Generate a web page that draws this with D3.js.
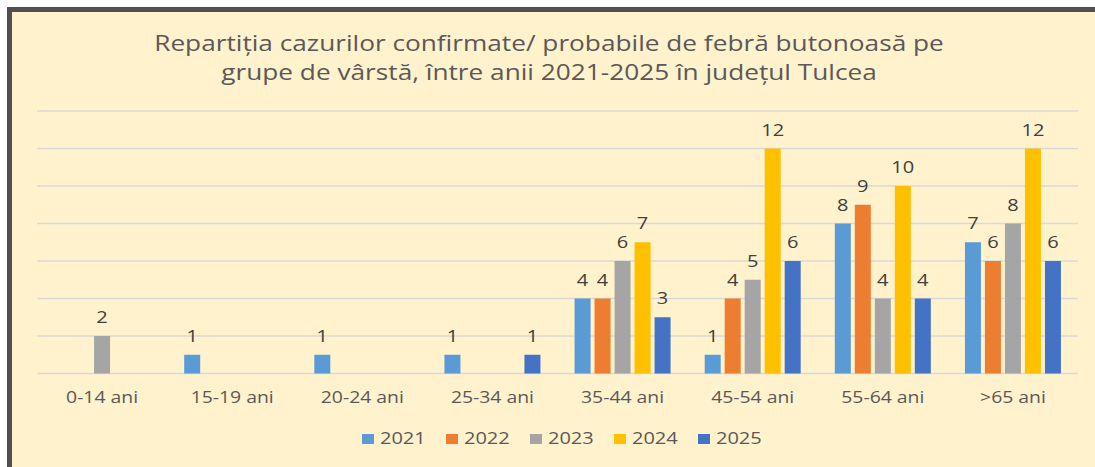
<!DOCTYPE html>
<html>
<head>
<meta charset="utf-8">
<script src="https://cdn.jsdelivr.net/npm/d3@7"></script>
<style>
  body { margin: 0; background: #fff; }
  svg { display: block; font-family: "Open Sans", sans-serif; }
</style>
</head>
<body>
<svg id="chart" width="1095" height="467"></svg>
<script>
// data
var categories = ["0-14 ani", "15-19 ani", "20-24 ani", "25-34 ani", "35-44 ani", "45-54 ani", "55-64 ani", ">65 ani"];
var years = ["2021", "2022", "2023", "2024", "2025"];
var colors = ["#5B9BD5", "#ED7D31", "#A5A5A5", "#FFC000", "#4472C4"];
var v2021 = [0, 1, 1, 1, 4, 1, 8, 7];
var v2022 = [0, 0, 0, 0, 4, 4, 9, 6];
var v2023 = [2, 0, 0, 0, 6, 5, 4, 8];
var v2024 = [0, 0, 0, 0, 7, 12, 10, 12];
var v2025 = [0, 0, 0, 1, 3, 6, 4, 6];
var seriesVals = [v2021, v2022, v2023, v2024, v2025];
var yTicks = [0, 2, 4, 6, 8, 10, 12, 14];
var titleLines = ["Repartiția cazurilor confirmate/ probabile de febră butonoasă pe",
                  "grupe de vârstă, între anii 2021-2025 în județul Tulcea"];

// the source screenshot is stretched sideways, so text gets widened a bit
var SX = 1.25;

var svg = d3.select("#chart");

// background + dark frame (cut off at right / bottom like the screenshot)
svg.append("rect")
  .attr("x", 9.5).attr("y", 9.5)
  .attr("width", 1200).attr("height", 600)
  .attr("fill", "#FFF2CC")
  .attr("stroke", "#505050")
  .attr("stroke-width", 5);

// title
svg.append("g").selectAll("text")
  .data(titleLines)
  .join("text")
  .attr("transform", function(d, i) { return "translate(549," + (51 + i * 28.5) + ") scale(1.22,1)"; })
  .attr("text-anchor", "middle")
  .attr("font-size", 21.5)
  .attr("fill", "#595959")
  .text(function(d) { return d; });

var x0 = d3.scaleBand().domain(categories).range([37, 1078]).padding(0);
var x1 = d3.scaleBand().domain(years).range([0, 96]).paddingInner(0.2);
var y = d3.scaleLinear().domain([0, 14]).range([373.5, 111]);

// grid lines
svg.append("g").selectAll("line")
  .data(yTicks)
  .join("line")
  .attr("x1", 37).attr("x2", 1078)
  .attr("y1", function(d) { return y(d); })
  .attr("y2", function(d) { return y(d); })
  .attr("stroke", "#D9D9D9")
  .attr("stroke-width", 1.5);

// bars
var rows = [];
categories.forEach(function(c, ci) {
  years.forEach(function(yr, si) {
    rows.push({cat: c, year: yr, si: si, value: seriesVals[si][ci]});
  });
});

var off = (x0.bandwidth() - 96) / 2;
var barX = function(d) { return x0(d.cat) + off + x1(d.year); };

svg.append("g").selectAll("rect")
  .data(rows.filter(function(d) { return d.value > 0; }))
  .join("rect")
  .attr("x", barX)
  .attr("y", function(d) { return y(d.value); })
  .attr("width", x1.bandwidth())
  .attr("height", function(d) { return y(0) - y(d.value); })
  .attr("fill", function(d) { return colors[d.si]; });

// value labels
svg.append("g").selectAll("text")
  .data(rows.filter(function(d) { return d.value > 0; }))
  .join("text")
  .attr("transform", function(d) {
    return "translate(" + (barX(d) + x1.bandwidth() / 2) + "," + (y(d.value) - 13) + ") scale(" + SX + ",1)";
  })
  .attr("text-anchor", "middle")
  .attr("font-size", 16)
  .attr("fill", "#404040")
  .text(function(d) { return d.value; });

// category axis
var xAxis = d3.axisBottom(x0).tickSize(0).tickPadding(19);
var gx = svg.append("g")
  .attr("transform", "translate(0," + y(0) + ")")
  .call(xAxis);
gx.select(".domain").remove();
gx.selectAll("text")
  .attr("transform", "scale(" + SX + ",1)")
  .attr("font-family", "Open Sans, sans-serif")
  .attr("font-size", 15.5)
  .attr("fill", "#595959");

// legend
var legend = svg.append("g").selectAll("g")
  .data(years)
  .join("g")
  .attr("transform", function(d, i) { return "translate(" + (362 + i * 84) + ",434)"; });
legend.append("rect")
  .attr("width", 12).attr("height", 10)
  .attr("fill", function(d, i) { return colors[i]; });
legend.append("text")
  .attr("transform", "translate(18,10) scale(" + SX + ",1)")
  .attr("font-size", 16)
  .attr("fill", "#595959")
  .text(function(d) { return d; });
</script>
</body>
</html>
